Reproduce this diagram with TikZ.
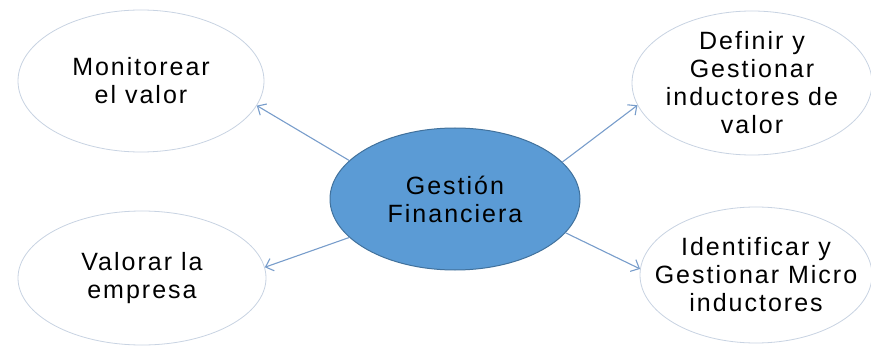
\documentclass[tikz,border=0pt]{standalone}
\usepackage{fontspec}
\setmainfont[LetterSpace=8]{Liberation Sans}
\usetikzlibrary{arrows.meta,shapes.geometric}
\definecolor{core}{HTML}{5B9BD5}
\definecolor{coreline}{HTML}{41719C}
\definecolor{rim}{HTML}{C8D3E2}
\definecolor{link}{HTML}{789DCB}
\tikzset{
 goal/.style={ellipse,draw=rim,line width=0.8pt,fill=white,align=center,inner xsep=-50pt,inner ysep=-30pt,font=\fontsize{25}{28}\selectfont},
 hub/.style={goal,fill=core,draw=coreline,line width=1pt},
 arr/.style={-{Straight Barb[length=7pt,width=13pt]},line width=1.1pt,draw=link}}

\begin{document}
\begin{tikzpicture}[x=1pt,y=1pt]
\useasboundingbox (0,0) rectangle (871,346);
\node[hub,minimum width=250,minimum height=142] (gestion) at (455,147) {Gesti\'on\\Financiera};

\node[goal,minimum width=246,minimum height=142] (monitorear) at (141,265) {Monitorear\\el valor};
\node[goal,minimum width=248,minimum height=134] (valorar) at (142,68) {Valorar la\\empresa};
\node[goal,minimum width=240,minimum height=144] (definir) at (752,263) {Definir y\\Gestionar\\inductores de\\valor};
\node[goal,minimum width=232,minimum height=136] (identificar) at (756,71) {Identificar y\\Gestionar Micro\\inductores};

\draw[arr] (gestion.160) -- (monitorear.-12);
\draw[arr] (gestion.200) -- (valorar.5);
\draw[arr] (gestion.19) -- (definir.191);
\draw[arr] (gestion.-17) -- (identificar.177);
\end{tikzpicture}
\end{document}
